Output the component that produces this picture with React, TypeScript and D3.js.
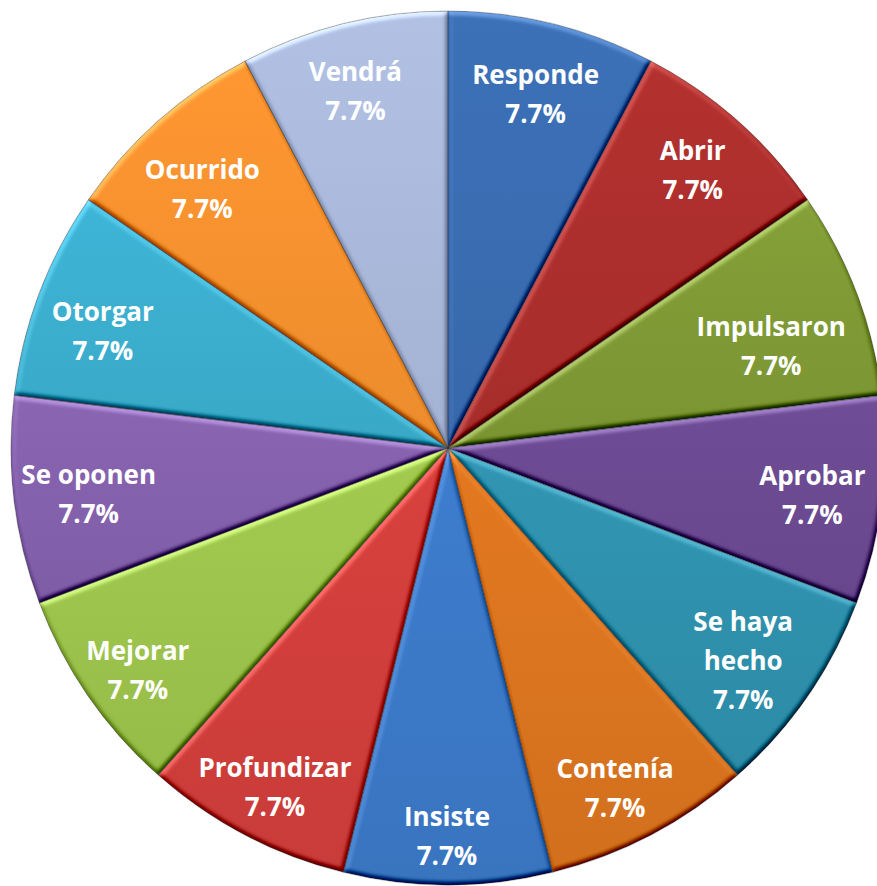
import React, { useEffect, useRef } from 'react';
import * as d3 from 'd3';

// slices clockwise from 12 o'clock
const labels = [
  'Responde', 'Abrir', 'Impulsaron', 'Aprobar', 'Se haya hecho', 'Contenía',
  'Insiste', 'Profundizar', 'Mejorar', 'Se oponen', 'Otorgar', 'Ocurrido', 'Vendrá',
];
const values = [1, 1, 1, 1, 1, 1, 1, 1, 1, 1, 1, 1, 1];
const colors = [
  '#3a6db2', '#ad2f2d', '#7f9a35', '#6b4a92', '#2f91ad', '#db751f',
  '#3c79c7', '#d13f3b', '#9dc44c', '#8561ad', '#3cafcf', '#f6922f', '#abbadc',
];
// where the labels break into lines
const labelLines: Record<string, string[]> = {
  'Se haya hecho': ['Se haya', 'hecho'],
};
// best-fit shifts of the data labels, like the original's
const labelNudge: [number, number][] = [
  [0, 1], [2, -4], [-19, 28], [1, 3], [-6, 5], [-3, 16],
  [-1, 22], [-3, 15], [-9, 14], [4, 2], [-3, 13], [-3, 15], [-5, -2],
];

const W = 877;
const H = 886;

const App = () => {
  const svgRef = useRef<SVGSVGElement>(null);

  useEffect(() => {
    const cx = 448;
    const cy = 448;
    const radius = 437;

    const svgEl = d3.select(svgRef.current);
    svgEl.selectAll('*').remove();
    const svg = svgEl.attr('width', W).attr('height', H);

    // soft bevel: diffuse light from the top-left, flat areas left unchanged
    const defs = svg.append('defs');
    const f = defs.append('filter')
      .attr('id', 'bevel')
      .attr('color-interpolation-filters', 'sRGB')
      .attr('x', '-5%').attr('y', '-5%')
      .attr('width', '110%').attr('height', '110%');
    f.append('feGaussianBlur').attr('in', 'SourceAlpha').attr('stdDeviation', 2.5).attr('result', 'blur');
    f.append('feDiffuseLighting')
      .attr('in', 'blur')
      .attr('surfaceScale', 3)
      .attr('diffuseConstant', 1)
      .attr('lighting-color', '#ffffff')
      .attr('result', 'light')
      .append('feDistantLight').attr('azimuth', 250).attr('elevation', 45);
    f.append('feComposite')
      .attr('in', 'SourceGraphic').attr('in2', 'light')
      .attr('operator', 'arithmetic')
      .attr('k1', 0).attr('k2', 1).attr('k3', 0.7).attr('k4', -0.7 * Math.SQRT1_2)
      .attr('result', 'lit');
    f.append('feComposite').attr('in', 'lit').attr('in2', 'SourceAlpha').attr('operator', 'in');

    colors.forEach((c, i) => {
      const g = defs.append('linearGradient')
        .attr('id', `grad${i}`)
        .attr('x1', 0).attr('y1', 0).attr('x2', 0).attr('y2', 1);
      g.append('stop').attr('offset', '0%').attr('stop-color', d3.color(c)!.brighter(0.1).formatHex());
      g.append('stop').attr('offset', '100%').attr('stop-color', d3.color(c)!.darker(0.12).formatHex());
    });

    const pie = d3.pie<number>().sort(null).value(d => d);
    const arcs = pie(values);
    const arc = d3.arc<d3.PieArcDatum<number>>().innerRadius(0).outerRadius(radius);
    const labelArc = d3.arc<d3.PieArcDatum<number>>().innerRadius(366).outerRadius(366);
    const total = d3.sum(values);

    const g = svg.append('g').attr('transform', `translate(${cx},${cy})`);

    g.selectAll('path.slice')
      .data(arcs)
      .join('path')
      .attr('class', 'slice')
      .attr('d', arc)
      .attr('fill', (_, i) => `url(#grad${i})`)
      .attr('filter', 'url(#bevel)');

    g.selectAll('path.edge')
      .data(arcs)
      .join('path')
      .attr('class', 'edge')
      .attr('d', arc)
      .attr('fill', 'none')
      .attr('stroke', 'rgba(50,50,50,0.35)')
      .attr('stroke-width', 1);

    const lineH = 39;
    arcs.forEach((a, i) => {
      const [cxl, cyl] = labelArc.centroid(a);
      const lx = cxl + labelNudge[i][0];
      const ly = cyl + labelNudge[i][1];
      const lines = [...(labelLines[labels[i]] || [labels[i]]), `${d3.format('.1%')(a.value / total)}`];
      const n = lines.length;
      const t = g.append('text')
        .attr('text-anchor', 'middle')
        .attr('fill', '#ffffff')
        .style('font-family', '"Open Sans", "DejaVu Sans", sans-serif')
        .style('font-weight', 700)
        .style('font-size', '26px');
      lines.forEach((ln, j) => {
        t.append('tspan')
          .attr('x', lx)
          .attr('y', ly + (j - (n - 1) / 2) * lineH + 9.5)
          .text(ln);
      });
    });
  }, []);

  return (
    <svg ref={svgRef} style={{ position: 'absolute', left: 0, top: 0, background: '#fff' }} />
  );
};

export default App;
